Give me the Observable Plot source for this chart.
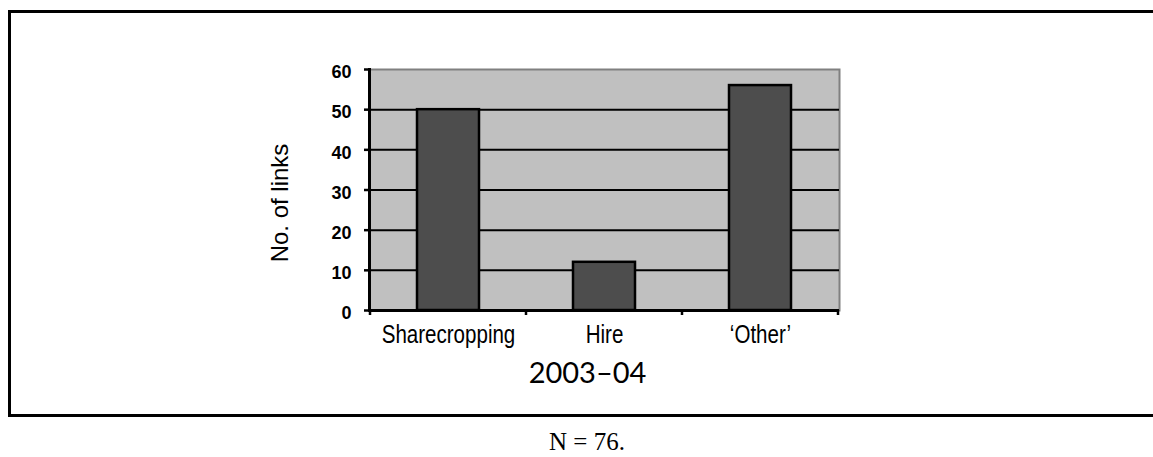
<!DOCTYPE html>
<html><head><meta charset="utf-8">
<script src="https://cdn.jsdelivr.net/npm/d3@7"></script>
<script src="https://cdn.jsdelivr.net/npm/@observablehq/plot@0.6"></script>
<style>
body{margin:0;background:#fff;}
#wrap{position:relative;width:1153px;height:457px;overflow:hidden;background:#fff;}
#chart{position:absolute;left:0;top:0;}
#box{position:absolute;left:8px;top:10px;width:1200px;height:401px;border:3px solid #000;pointer-events:none;}
#caption{position:absolute;left:0;width:1174px;top:432px;text-align:center;font:25px/20px "Liberation Serif","Times New Roman",serif;color:#000;}
</style></head><body>
<div id="wrap"><div id="chart"></div><div id="box"></div><div id="caption"></div></div>
<script>
const categories = ["Sharecropping", "Hire", "‘Other’"];
const links = [50, 12, 56];
const yTicks = [0, 10, 20, 30, 40, 50, 60];
const gridTicks = [10, 20, 30, 40, 50];
const yTitle = "No. of links";
const xTitle = "2003–04";
const note = "N = 76.";

const data = categories.map((c, i) => ({category: c, links: links[i]}));

function bandBoundaryTicks(index, scales, values, dims) {
  const x = scales.x;
  const step = x.step(), bw = x.bandwidth();
  const off = (step - bw) / 2;
  const xs = categories.map(c => x(c) - off);
  xs.push(x(categories[categories.length - 1]) + bw + off);
  const y0 = dims.height - dims.marginBottom;
  const g = d3.create("svg:g").attr("aria-label", "x boundary ticks");
  g.selectAll("line").data(xs).join("line")
    .attr("x1", d => d).attr("x2", d => d)
    .attr("y1", y0).attr("y2", y0 + 5)
    .attr("stroke", "#000").attr("stroke-width", 2.5);
  return g.node();
}

const sans = "'Liberation Sans', Arial, sans-serif";

const chart = Plot.plot({
  width: 1153,
  height: 420,
  marginLeft: 369,
  marginRight: 314,
  marginTop: 69,
  marginBottom: 110,
  style: {background: "transparent", fontFamily: sans, color: "#000"},
  x: {domain: categories, paddingInner: 0.6, paddingOuter: 0.3, axis: null},
  y: {domain: [0, 60], axis: null},
  marks: [
    Plot.frame({fill: "#c0c0c0", stroke: "#808080", strokeWidth: 2}),
    Plot.gridY(gridTicks, {stroke: "#000", strokeOpacity: 1, strokeWidth: 2}),
    Plot.barY(data, {x: "category", y: "links", fill: "#4d4d4d", stroke: "#000", strokeWidth: 2.5}),
    Plot.ruleY([0], {stroke: "#000", strokeWidth: 3}),
    Plot.frame({anchor: "left", stroke: "#000", strokeWidth: 3}),
    Plot.axisY(yTicks, {tickSize: 5, text: null, label: null, stroke: "#000", strokeWidth: 2.5}),
    Plot.axisY(yTicks, {tickSize: 0, tickPadding: 18, dy: 3, label: null, fontSize: 18, fontWeight: "bold", fontFamily: sans}),
    Plot.axisX({tickSize: 0, tickPadding: 14, label: null, fontSize: 26, fontFamily: sans}),
    bandBoundaryTicks,
    Plot.text([yTitle], {frameAnchor: "left", textAnchor: "middle", rotate: -90, dx: -89, dy: 13, fontSize: 24, fontFamily: sans, fill: "#000"}),
    Plot.text([xTitle], {frameAnchor: "bottom", textAnchor: "middle", dx: -17, dy: 72, fontSize: 29, fontFamily: "Lato, 'Open Sans', sans-serif", fill: "#000"})
  ]
});
document.getElementById("chart").appendChild(chart);
// condense the category labels (narrow face in the reference)
d3.select(chart).selectAll('g[aria-label="x-axis tick label"] text').each(function() {
  const len = this.getComputedTextLength();
  this.setAttribute("textLength", (len * 0.79).toFixed(1));
  this.setAttribute("lengthAdjust", "spacingAndGlyphs");
});
document.getElementById("caption").textContent = note;
</script>
</body></html>
